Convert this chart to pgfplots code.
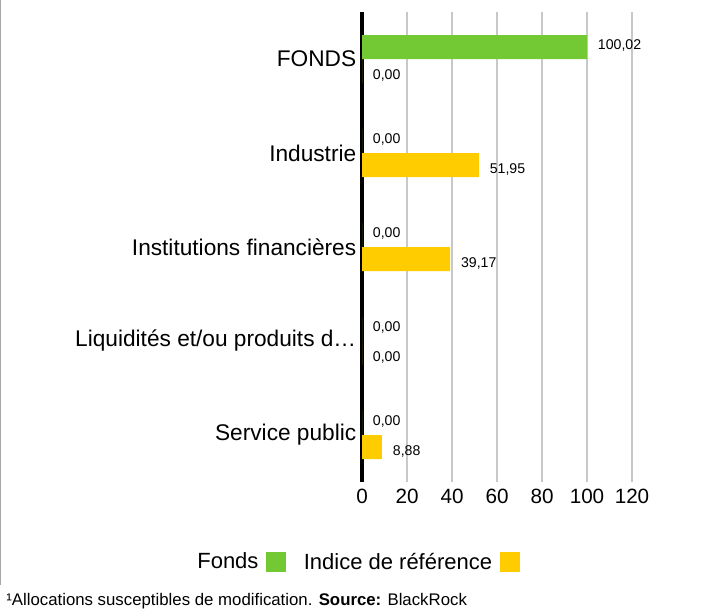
\documentclass[border=0pt]{standalone}
\usepackage{pgfplots}
\pgfplotsset{compat=1.18}
\usepackage{fontspec}
\setmainfont{Liberation Sans}

\definecolor{fondsgreen}{RGB}{115,201,52}
\definecolor{indexyellow}{RGB}{255,204,0}
\definecolor{gridgray}{RGB}{200,200,200}

\begin{document}
\begin{tikzpicture}
% page: 716 x 614 px at 0.75pt per px
\path[use as bounding box] (0,0) rectangle (537pt,-460.5pt);
\draw[gray!70, line width=0.75pt] (0.4pt,0) -- (0.4pt,-439pt);

\begin{axis}[
  at={(271.5pt,-9pt)}, anchor=north west,
  scale only axis, width=202.5pt, height=352.5pt,
  xbar, bar width=18pt,
  xmin=0, xmax=120, xtick={0,20,40,60,80,100,120},
  ymin=-0.5, ymax=4.5, ytick={0,1,2,3,4},
  yticklabels={Service public, Liquidités et/ou produits d…, Institutions financières, Industrie, FONDS},
  axis x line*=bottom, axis y line*=left,
  x axis line style={draw=none},
  y axis line style={line width=3pt, black, -},
  major tick length=0pt,
  xmajorgrids, grid style={gridgray, line width=1.5pt},
  /pgf/number format/assume math mode=true,
  xticklabel style={font=\fontsize{15.5}{18}\selectfont, yshift=-2pt},
  yticklabel style={font=\fontsize{17}{20}\selectfont, xshift=-0.8pt},
  nodes near coords={\pgfmathprintnumber[fixed, fixed zerofill, precision=2, use comma]{\pgfplotspointmeta}},
  every node near coord/.append style={font=\fontsize{10.6}{12}\selectfont, anchor=west, inner sep=0pt, xshift=8pt, black},
  legend columns=2,
  legend plot pos=right,
  legend style={at={(-0.017,-0.170)}, anchor=center, draw=none, fill=none,
    font=\fontsize{16.5}{19}\selectfont, /tikz/every even column/.append style={column sep=11pt}},
  legend image code/.code={\path (0pt,0pt); \fill (4pt,-7.5pt) rectangle (19pt,7.5pt);},
]
\addplot[fill=fondsgreen, draw=none, bar shift=9pt,
  every node near coord/.append style={yshift=1pt}] coordinates {
  (0,0) (0,1) (0,2) (0,3) (100.02,4)
};
\addplot[fill=indexyellow, draw=none, bar shift=-9pt,
  every node near coord/.append style={yshift=-3.5pt}] coordinates {
  (8.88,0) (0,1) (39.17,2) (51.95,3) (0,4)
};
\legend{Fonds, Indice de référence}
\end{axis}

\node[anchor=base west, inner sep=0pt, font=\fontsize{12.6}{14}\selectfont] at (4.5pt,-454pt)
  {¹Allocations susceptibles de modification. \textbf{Source:} BlackRock};
\end{tikzpicture}
\end{document}
